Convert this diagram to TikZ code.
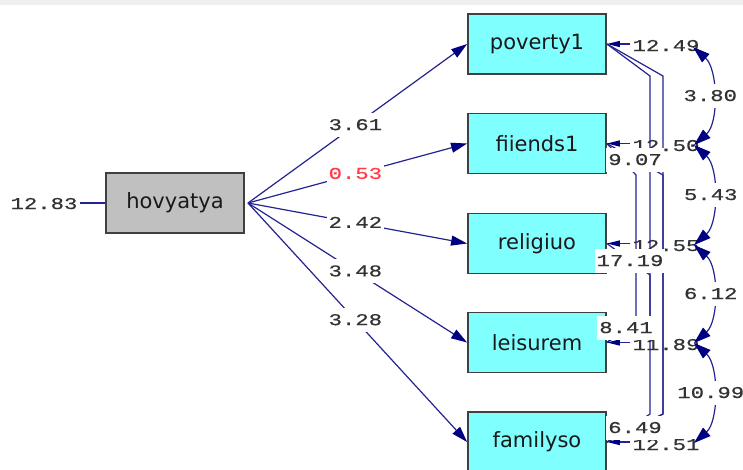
\documentclass[tikz,border=0pt]{standalone}
\usepackage{fontspec}
\setmainfont{DejaVu Sans}
\newfontfamily\numfont[FakeStretch=1.35, FakeBold=0.6]{Liberation Mono}
\usetikzlibrary{arrows.meta,calc}
\definecolor{navy}{RGB}{35,35,145}
\definecolor{tipnavy}{RGB}{0,0,128}
\definecolor{obscyan}{RGB}{128,255,255}
\definecolor{hovgray}{RGB}{192,192,192}
\definecolor{edgegray}{RGB}{64,64,64}
\definecolor{numred}{RGB}{255,60,70}
\definecolor{bandgray}{RGB}{239,239,239}
\begin{document}
\begin{tikzpicture}[x=1pt,y=-1pt,
  obsbox/.style={draw=edgegray, line width=1.8pt, fill=obscyan, minimum width=138pt, minimum height=60pt, inner sep=0pt, font=\fontsize{21}{21}\selectfont, text=black!90},
  hovbox/.style={obsbox, fill=hovgray},
  numlab/.style={font=\numfont\fontsize{16.5}{16.5}\selectfont, text=black!80, text height=10pt, text depth=0pt, inner xsep=2pt, inner ysep=7pt},
  wlab/.style={numlab, fill=white},
  regarrow/.style={draw=navy, line width=1.2pt, -{Triangle[length=16pt,width=10pt,color=tipnavy]}},
  errarrow/.style={draw=navy, line width=1.2pt, -{Triangle[length=13pt,width=6pt,color=tipnavy]}},
  corrline/.style={draw=navy, line width=1.2pt},
  corrarc/.style={draw=navy, line width=1.2pt, {Triangle[length=17pt,width=11pt,color=tipnavy]}-{Triangle[length=17pt,width=11pt,color=tipnavy]}}
]
\useasboundingbox (0,0) rectangle (743,469);
\fill[bandgray] (0,0) rectangle (743,5);

% boxes
\node[hovbox] (hov) at (175,203) {hovyatya};
\node[obsbox] (pov) at (537,44) {poverty1};
\node[obsbox] (fii) at (537,143.5) {fiiends1};
\node[obsbox] (rel) at (537,243.5) {religiuo};
\node[obsbox] (lei) at (537,342.5) {leisurem};
\node[obsbox] (fam) at (537,442) {familyso};

% error of hovyatya
\node[numlab] (ehov) at (44,204) {12.83};
\draw[corrline] (ehov.east |- hov.west) -- (hov.west);

% regression paths
\coordinate (src) at (248,203);
\draw[regarrow] (src) -- node[wlab, pos=0.49] {3.61} (pov.west);
\draw[regarrow] (src) -- node[wlab, pos=0.49, text=numred] {0.53} (fii.west);
\draw[regarrow] (src) -- node[wlab, pos=0.49] {2.42} (rel.west);
\draw[regarrow] (src) -- node[wlab, pos=0.49] {3.48} (lei.west);
\draw[regarrow] (src) -- node[wlab, pos=0.49] {3.28} (fam.west);

% error variances
\node[numlab] (epov) at (666,46) {12.49};
\node[numlab] (efii) at (666,146) {12.50};
\node[numlab] (erel) at (666,246) {12.55};
\node[numlab] (elei) at (666,345) {11.89};
\node[numlab] (efam) at (666,445) {12.51};
\draw[errarrow] (epov.west |- pov.east) -- (pov.east);
\draw[errarrow] (efii.west |- fii.east) -- (fii.east);
\draw[errarrow] (erel.west |- rel.east) -- (rel.east);
\draw[errarrow] (elei.west |- lei.east) -- (lei.east);
\draw[errarrow] (efam.west |- fam.east) -- (fam.east);

% correlated errors, non-adjacent
\draw[corrline] (pov.east) -- (650,76) -- (650,316) -- (lei.east);
\draw[corrline] (pov.east) -- (663,76) -- (663,414) -- (fam.east);
\draw[corrline] (fii.east) -- (636,175) -- (636,316) -- (lei.east);
\draw[corrline] (fii.east) -- (663,175) -- (663,414) -- (fam.east);
\draw[corrline] (rel.east) -- (650,275) -- (650,414) -- (fam.east);
\node[wlab] (c1) at (635,160) {9.07};
\node[wlab] (c2) at (630,261) {17.19};
\node[wlab] (c3) at (626,328) {8.41};
\node[wlab] (c4) at (635,428) {6.49};

% correlated errors, adjacent
\coordinate (a1) at (693,47);
\coordinate (a2) at (694,145);
\coordinate (a3) at (694,245);
\coordinate (a4) at (694,343);
\coordinate (a5) at (694,443);
\draw[corrarc] (a1) .. controls +(25,22) and +(25,-22) .. node[wlab, pos=0.5, xshift=-2pt] {3.80} (a2);
\draw[corrarc] (a2) .. controls +(25,22) and +(25,-22) .. node[wlab, pos=0.5, xshift=-2pt] {5.43} (a3);
\draw[corrarc] (a3) .. controls +(25,22) and +(25,-22) .. node[wlab, pos=0.5, xshift=-2pt] {6.12} (a4);
\draw[corrarc] (a4) .. controls +(25,22) and +(25,-22) .. node[wlab, pos=0.5, xshift=-2pt] {10.99} (a5);
\end{tikzpicture}
\end{document}
